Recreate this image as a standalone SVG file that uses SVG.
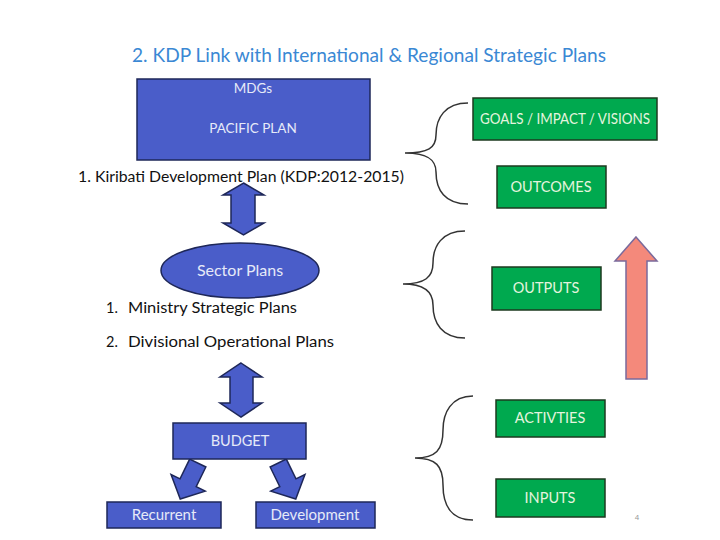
<svg xmlns="http://www.w3.org/2000/svg" width="720" height="540" viewBox="0 0 720 540">
<defs>
<style>
.bx{fill:#4A5DC9;stroke:#1E2758;stroke-width:1.5}
.gb{fill:#00A94F;stroke:#1C3A1F;stroke-width:1.5}
.wt{font-family:Lato,"Open Sans","Liberation Sans",sans-serif;fill:#E6EAF8;text-anchor:middle}
.gt{font-family:Lato,"Open Sans","Liberation Sans",sans-serif;fill:#E4F4DE;text-anchor:middle;font-size:14.5px}
.bt{font-family:Lato,"Open Sans","Liberation Sans",sans-serif;fill:#111111;font-size:14.5px}
.br{fill:none;stroke:#333333;stroke-width:1.5}
.ar{fill:#4A5DC9;stroke:#1E2758;stroke-width:1.5;stroke-linejoin:miter}
</style>
<polygon id="diagArrow" points="-9,-20 9,-20 9,2 19,2 0,20 -19,2 -9,2"/>
</defs>
<rect width="720" height="540" fill="#FFFFFF"/>
<text x="369" y="62" text-anchor="middle" font-family="Lato,'Open Sans','Liberation Sans',sans-serif" font-size="20" fill="#3A88D4" textLength="474" lengthAdjust="spacingAndGlyphs">2. KDP Link with International &amp; Regional Strategic Plans</text>

<g id="connectors">
<polygon class="ar" points="243.5,183 264,195 255,195 255,223 264,223 243.5,235 223,223 231,223 231,195 223,195"/>
<polygon class="ar" points="241,363 262,377 253,377 253,403 262,403 241,417 220,403 230,403 230,377 220,377"/>
<use href="#diagArrow" class="ar" transform="translate(189,481) rotate(26)"/>
<use href="#diagArrow" class="ar" transform="translate(287,481) rotate(-26)"/>
<path class="br" d="M468,103 C445,103 436,118 436,135 C436,148 428,153 405,153 C428,153 436,160 436,172 C436,190 445,204 468,204"/>
<path class="br" d="M465,231 C442,231 433,246 433,263 C433,277 425,284 403,284 C425,284 433,292 433,305 C433,323 442,338 465,338"/>
<path class="br" d="M473,396 C451,396 443,413 443,430 C443,450 436,458 415,458 C436,458 443,466 443,485 C443,505 451,520 473,520"/>
<polygon points="636,237 657,261 647,261 647,379 626,379 626,261 615,261" fill="#F4897B" stroke="#7A6A9C" stroke-width="1.5"/>
</g>

<g id="mdgs">
<rect class="bx" x="137" y="79" width="233" height="81"/>
<text class="wt" x="253" y="93" font-size="13.5">MDGs</text>
<text class="wt" x="253" y="133" font-size="13.5">PACIFIC PLAN</text>
</g>
<g id="kdp">
<text class="bt" x="78" y="182" textLength="326" lengthAdjust="spacingAndGlyphs">1. Kiribati Development Plan (KDP:2012-2015)</text>
</g>
<g id="sector">
<ellipse cx="240" cy="270.5" rx="79" ry="27.5" fill="#4A5DC9" stroke="#1E2758" stroke-width="1.5"/>
<text class="wt" x="240" y="276" font-size="16">Sector Plans</text>
</g>
<g id="subplans">
<text class="bt" x="106" y="313">1.</text>
<text class="bt" x="128" y="313" textLength="169" lengthAdjust="spacingAndGlyphs">Ministry Strategic Plans</text>
<text class="bt" x="106" y="347">2.</text>
<text class="bt" x="128" y="347" textLength="206" lengthAdjust="spacingAndGlyphs">Divisional Operational Plans</text>
</g>
<g id="budget">
<rect class="bx" x="173" y="423" width="133" height="36"/>
<text class="wt" x="240" y="446" font-size="14.5">BUDGET</text>
</g>
<g id="recurrent">
<rect class="bx" x="107" y="502" width="114" height="26"/>
<text class="wt" x="164" y="520" font-size="15">Recurrent</text>
</g>
<g id="development">
<rect class="bx" x="256" y="502" width="119" height="26"/>
<text class="wt" x="315" y="520" font-size="15">Development</text>
</g>
<g id="goals">
<rect class="gb" x="473" y="98" width="184" height="42"/>
<text class="gt" x="565" y="124" textLength="170" lengthAdjust="spacingAndGlyphs">GOALS / IMPACT / VISIONS</text>
</g>
<g id="outcomes">
<rect class="gb" x="497" y="166" width="109" height="42"/>
<text class="gt" x="551" y="192">OUTCOMES</text>
</g>
<g id="outputs">
<rect class="gb" x="492" y="267" width="109" height="43"/>
<text class="gt" x="546" y="293">OUTPUTS</text>
</g>
<g id="activities">
<rect class="gb" x="496" y="400" width="109" height="37"/>
<text class="gt" x="550" y="423">ACTIVTIES</text>
</g>
<g id="inputs">
<rect class="gb" x="496" y="479" width="109" height="38"/>
<text class="gt" x="550" y="503">INPUTS</text>
</g>
<text x="637" y="520" font-family="'Liberation Sans',sans-serif" font-size="8" fill="#999999" text-anchor="middle">4</text>
</svg>
